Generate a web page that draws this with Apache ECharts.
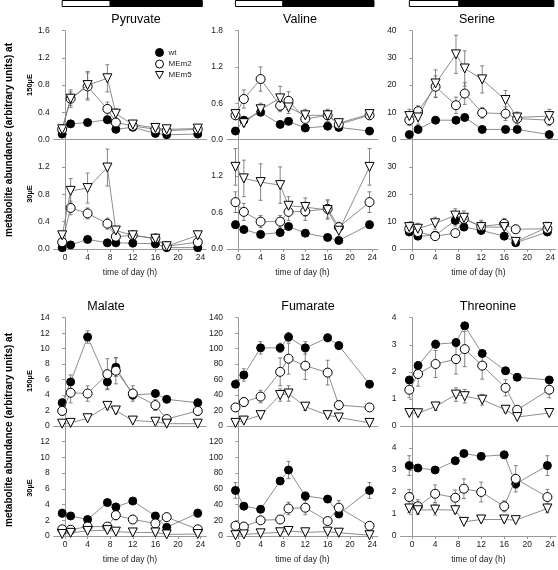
<!DOCTYPE html>
<html><head><meta charset="utf-8">
<script src="https://cdn.jsdelivr.net/npm/echarts@6/dist/echarts.min.js"></script>
<style>html,body{margin:0;padding:0;background:#fff}#c{width:558px;height:570px}</style>
</head><body><div id="c"></div><script>
// ---------------- DATA ----------------
const times = [-0.5, 1, 4, 7.5, 9, 12, 16, 18, 23.5];
const xTicks = [0, 4, 8, 12, 16, 20, 24];
const seriesNames = ['wt', 'MEm2', 'MEm5'];
const lightPeriod = [-0.5, 8];
const darkPeriod = [8, 24.3];

// Pyruvate
const pyr150_wt   = [0.08,0.23,0.25,0.29,0.15,0.18,0.09,0.07,0.08];
const pyr150_MEm2 = [0.15,0.60,0.78,0.45,0.25,0.20,0.15,0.13,0.15];
const pyr150_MEm5 = [0.15,0.60,0.80,0.90,0.38,0.22,0.17,0.15,0.16];
const pyr150_wt_err   = [0.01,0.02,0.02,0.03,0.02,0.02,0.01,0.01,0.01];
const pyr150_MEm2_err = [0.03,0.13,0.20,0.10,0.05,0.05,0.03,0.02,0.03];
const pyr150_MEm5_err = [0.03,0.10,0.20,0.20,0.07,0.05,0.04,0.03,0.03];
const pyr30_wt   = [0.02,0.06,0.14,0.09,0.09,0.085,0.075,0.02,0.02];
const pyr30_MEm2 = [0.10,0.60,0.52,0.37,0.18,0.20,0.155,0.04,0.10];
const pyr30_MEm5 = [0.20,0.85,0.89,1.19,0.27,0.20,0.15,0.04,0.20];
const pyr30_wt_err   = [0.01,0.01,0.01,0.01,0.01,0.01,0.01,0.01,0.01];
const pyr30_MEm2_err = [0.03,0.10,0.08,0.08,0.04,0.03,0.03,0.02,0.03];
const pyr30_MEm5_err = [0.04,0.18,0.22,0.27,0.06,0.04,0.04,0.02,0.04];

// Valine
const val150_wt   = [0.14,0.32,0.45,0.25,0.30,0.19,0.22,0.20,0.14];
const val150_MEm2 = [0.40,0.67,1.00,0.56,0.64,0.34,0.40,0.25,0.40];
const val150_MEm5 = [0.42,0.27,0.50,0.68,0.53,0.40,0.40,0.27,0.42];
const val150_wt_err   = [0.03,0.03,0.03,0.03,0.03,0.03,0.03,0.03,0.03];
const val150_MEm2_err = [0.07,0.15,0.20,0.10,0.15,0.10,0.10,0.05,0.07];
const val150_MEm5_err = [0.05,0.05,0.10,0.20,0.10,0.10,0.07,0.05,0.05];
const val30_wt   = [0.40,0.32,0.24,0.27,0.37,0.26,0.19,0.14,0.40];
const val30_MEm2 = [0.77,0.61,0.45,0.45,0.61,0.62,0.66,0.36,0.77];
const val30_MEm5 = [1.35,1.16,1.10,1.05,0.71,0.69,0.64,0.30,1.35];
const val30_wt_err   = [0.06,0.03,0.03,0.03,0.03,0.03,0.03,0.02,0.06];
const val30_MEm2_err = [0.17,0.14,0.10,0.10,0.14,0.15,0.15,0.08,0.17];
const val30_MEm5_err = [0.30,0.30,0.30,0.30,0.15,0.15,0.15,0.10,0.30];

// Serine
const ser150_wt   = [1.8,3.7,7.1,7.1,8.1,3.7,3.7,3.7,1.8];
const ser150_MEm2 = [7.1,10.4,19.4,12.6,16.9,9.8,9.5,7.7,7.1];
const ser150_MEm5 = [8.6,8.1,20.6,31.3,26.1,22.1,14.5,8.1,8.6];
const ser150_wt_err   = [0.3,0.5,0.8,0.8,0.8,0.5,0.5,0.5,0.3];
const ser150_MEm2_err = [2,2,4,3,4,2,2.5,2,2];
const ser150_MEm5_err = [2.5,2.5,5,7,6.5,5,3.5,2,2.5];
const ser30_wt   = [6.2,4.7,5.0,10.4,8.0,6.8,4.7,2.3,6.2];
const ser30_MEm2 = [7.4,6.2,4.7,5.8,11.0,8.2,9.2,7.2,7.4];
const ser30_MEm5 = [8.0,7.4,9.4,12.2,11.4,8.0,8.0,2.6,8.0];
const ser30_wt_err   = [1,0.8,0.8,2,1.2,1,0.8,0.8,1];
const ser30_MEm2_err = [1.2,1,0.8,1,2,1.5,2,1.5,1.2];
const ser30_MEm5_err = [1.8,2,2.2,2.5,2.5,2.5,2,1,1.8];

// Malate
const mal150_wt   = [3.0,5.7,11.5,5.7,7.6,4.0,4.2,3.45,3.0];
const mal150_MEm2 = [1.95,4.3,4.2,6.7,7.15,4.2,2.7,0.9,1.95];
const mal150_MEm5 = [0.3,0.4,1.0,2.6,2.0,0.7,0.55,0.3,0.3];
const mal150_wt_err   = [0.5,0.9,0.8,0.9,1.2,0.6,0.4,0.3,0.5];
const mal150_MEm2_err = [0.6,1.3,1.0,2.0,1.7,1.0,0.7,0.4,0.6];
const mal150_MEm5_err = [0.1,0.1,0.2,0.5,0.4,0.15,0.1,0.1,0.1];
const mal30_wt   = [2.9,2.55,2.1,4.25,3.7,4.45,2.55,1.1,2.9];
const mal30_MEm2 = [0.85,0.8,1.2,1.2,2.65,2.1,1.6,2.4,0.85];
const mal30_MEm5 = [0.25,0.4,0.65,0.75,0.55,0.45,0.45,0.2,0.25];
const mal30_wt_err   = [0.5,0.3,0.3,0.3,0.4,0.3,0.4,0.3,0.5];
const mal30_MEm2_err = [0.3,0.2,0.5,0.3,0.6,0.5,0.4,0.5,0.3];
const mal30_MEm5_err = [0.1,0.1,0.1,0.1,0.1,0.1,0.1,0.1,0.1];

// Fumarate
const fum150_wt   = [54,66,101,101,115,101,114,104,54];
const fum150_MEm2 = [24,31,38,70,87,78,69,27,24];
const fum150_MEm5 = [4,7,14,40,42,25,14,11,4];
const fum150_wt_err   = [4,8,8,6,6,8,5,5,4];
const fum150_MEm2_err = [5,6,8,18,20,18,16,6,5];
const fum150_MEm5_err = [1,2,3,8,10,5,3,2,1];
const fum30_wt   = [58,38,34,70,84,51,47,28,58];
const fum30_MEm2 = [13,12,20,21,35,36,19,36,13];
const fum30_MEm5 = [1,2,3.4,4.7,6.4,4.7,5.5,4.2,1];
const fum30_wt_err   = [10,4,4,4,11,5,4,4,10];
const fum30_MEm2_err = [3,3,4,4,8,9,4,9,3];
const fum30_MEm5_err = [0.5,1,1,1.2,1.5,1,1,1,0.5];

// Threonine
const thr150_wt   = [1.7,2.23,3.02,3.08,3.7,2.68,2.04,1.8,1.7];
const thr150_MEm2 = [1.34,1.92,2.29,2.47,2.84,2.23,1.41,0.6,1.34];
const thr150_MEm5 = [0.48,0.47,0.72,1.16,1.1,0.97,0.6,0.33,0.48];
const thr150_wt_err   = [0.1,0.15,0.15,0.15,0.1,0.1,0.1,0.05,0.1];
const thr150_MEm2_err = [0.3,0.45,0.5,0.55,0.65,0.5,0.3,0.1,0.3];
const thr150_MEm5_err = [0.05,0.05,0.15,0.25,0.25,0.2,0.1,0.05,0.05];
const thr30_wt   = [3.2,3.09,3.0,3.42,3.75,3.62,3.69,2.37,3.2];
const thr30_MEm2 = [1.77,1.35,1.92,1.74,2.15,2.0,1.35,2.6,1.77];
const thr30_MEm5 = [1.25,1.17,1.2,1.17,0.64,0.75,0.75,0.72,1.25];
const thr30_wt_err   = [0.45,0.05,0.05,0.1,0.1,0.1,0.05,0.2,0.45];
const thr30_MEm2_err = [0.35,0.3,0.4,0.35,0.45,0.45,0.25,0.6,0.35];
const thr30_MEm5_err = [0.2,0.2,0.25,0.15,0.05,0.1,0.1,0.05,0.2];

// ---------------- LAYOUT ----------------
const FONT = 'Liberation Sans, Arial, sans-serif';
const X_MIN = -2, X_MAX = 25;
const colLeft = [53.7, 227.1, 400.6];
const colScale = [5.65, 5.585, 5.835];
const rowY = [[30.7, 139.5, 249], [317.7, 426, 536]];
const AX = '#999', TXT = '#1a1a1a', LN = '#707070';

const panels = [
  {title:'Pyruvate', row:0, col:0, max:[1.6,1.6], interval:[0.4,0.4], dec:1,
   hi:[pyr150_wt,pyr150_MEm2,pyr150_MEm5], hiErr:[pyr150_wt_err,pyr150_MEm2_err,pyr150_MEm5_err],
   lo:[pyr30_wt,pyr30_MEm2,pyr30_MEm5], loErr:[pyr30_wt_err,pyr30_MEm2_err,pyr30_MEm5_err], tx:136},
  {title:'Valine', row:0, col:1, max:[1.8,1.8], interval:[0.6,0.6], dec:1,
   hi:[val150_wt,val150_MEm2,val150_MEm5], hiErr:[val150_wt_err,val150_MEm2_err,val150_MEm5_err],
   lo:[val30_wt,val30_MEm2,val30_MEm5], loErr:[val30_wt_err,val30_MEm2_err,val30_MEm5_err], tx:300},
  {title:'Serine', row:0, col:2, max:[40,40], interval:[10,10], dec:0,
   hi:[ser150_wt,ser150_MEm2,ser150_MEm5], hiErr:[ser150_wt_err,ser150_MEm2_err,ser150_MEm5_err],
   lo:[ser30_wt,ser30_MEm2,ser30_MEm5], loErr:[ser30_wt_err,ser30_MEm2_err,ser30_MEm5_err], tx:477},
  {title:'Malate', row:1, col:0, max:[14,14], interval:[2,2], dec:0,
   hi:[mal150_wt,mal150_MEm2,mal150_MEm5], hiErr:[mal150_wt_err,mal150_MEm2_err,mal150_MEm5_err],
   lo:[mal30_wt,mal30_MEm2,mal30_MEm5], loErr:[mal30_wt_err,mal30_MEm2_err,mal30_MEm5_err], tx:106},
  {title:'Fumarate', row:1, col:1, max:[140,140], interval:[20,20], dec:0,
   hi:[fum150_wt,fum150_MEm2,fum150_MEm5], hiErr:[fum150_wt_err,fum150_MEm2_err,fum150_MEm5_err],
   lo:[fum30_wt,fum30_MEm2,fum30_MEm5], loErr:[fum30_wt_err,fum30_MEm2_err,fum30_MEm5_err], tx:308},
  {title:'Threonine', row:1, col:2, max:[4,5], interval:[1,1], dec:0,
   hi:[thr150_wt,thr150_MEm2,thr150_MEm5], hiErr:[thr150_wt_err,thr150_MEm2_err,thr150_MEm5_err],
   lo:[thr30_wt,thr30_MEm2,thr30_MEm5], loErr:[thr30_wt_err,thr30_MEm2_err,thr30_MEm5_err], tx:488}
];

const symbolDefs = [
  {symbol:'circle', size:8, rotate:0, fill:'#000'},
  {symbol:'circle', size:9, rotate:0, fill:'#fff'},
  {symbol:'triangle', size:9, rotate:180, fill:'#fff'}
];

function errRender(params, api) {
  const x = api.value(0), y = api.value(1), e = api.value(2);
  const t = api.coord([x, y + e]), b = api.coord([x, Math.max(0, y - e)]);
  const w = 2;
  const st = {stroke:'#666', lineWidth:0.8};
  return {type:'group', children:[
    {type:'line', shape:{x1:t[0], y1:t[1], x2:b[0], y2:b[1]}, style:st},
    {type:'line', shape:{x1:t[0]-w, y1:t[1], x2:t[0]+w, y2:t[1]}, style:st},
    {type:'line', shape:{x1:b[0]-w, y1:b[1], x2:b[0]+w, y2:b[1]}, style:st}
  ]};
}

const grid = [], xAxis = [], yAxis = [], series = [], graphic = [];
let gi = 0;
panels.forEach(p => {
  const left = colLeft[p.col], width = colScale[p.col] * (X_MAX - X_MIN);
  [0, 1].forEach(level => {
    const isLo = level === 1;
    const yTop = rowY[p.row][level], yBot = rowY[p.row][level + 1];
    grid.push({left:left, top:yTop, width:width, height:yBot - yTop, containLabel:false});
    xAxis.push({gridIndex:gi, type:'value', min:X_MIN, max:X_MAX,
      axisLine:{show:true, onZero:false, lineStyle:{color:AX, width:1}},
      axisTick:{show:isLo, customValues:xTicks, length:3, lineStyle:{color:AX}},
      axisLabel:{show:isLo, customValues:xTicks, fontSize:8.5, color:TXT, margin:4, fontFamily:FONT},
      splitLine:{show:false},
      name:isLo ? 'time of day (h)' : '', nameLocation:'middle', nameGap:19,
      nameTextStyle:{fontSize:8.5, color:TXT, fontFamily:FONT}});
    yAxis.push({gridIndex:gi, type:'value', min:0, max:p.max[level], interval:p.interval[level],
      axisLine:{show:true, lineStyle:{color:AX, width:1}},
      axisTick:{show:true, length:3, lineStyle:{color:AX}},
      axisLabel:{fontSize:8.5, color:TXT, margin:4, fontFamily:FONT, showMaxLabel:!isLo,
        formatter:v => v.toFixed(p.dec)},
      splitLine:{show:false}});
    const vals = isLo ? p.lo : p.hi, errs = isLo ? p.loErr : p.hiErr;
    seriesNames.forEach((nm, si) => {
      series.push({type:'custom', xAxisIndex:gi, yAxisIndex:gi, renderItem:errRender, z:1,
        silent:true, animation:false, clip:false,
        data:times.map((t, i) => [t, vals[si][i], errs[si][i]])});
    });
    seriesNames.forEach((nm, si) => {
      const s = symbolDefs[si];
      series.push({type:'line', name:nm, xAxisIndex:gi, yAxisIndex:gi, z:3 + si,
        data:times.map((t, i) => [t, vals[si][i]]),
        symbol:s.symbol, symbolSize:s.size, symbolRotate:s.rotate, showAllSymbol:true,
        itemStyle:{color:s.fill, borderColor:'#000', borderWidth:1, opacity:1},
        lineStyle:{color:LN, width:0.8}, animation:false});
    });
    gi++;
  });
  graphic.push({type:'text', x:p.tx, y:rowY[p.row][0] - 11,
    style:{text:p.title, font:'12.5px ' + FONT, fill:'#000', align:'center', verticalAlign:'middle',
      textAlign:'center', textVerticalAlign:'middle'}});
});

// light / dark bars above top row
[0, 1, 2].forEach(c => {
  const left = colLeft[c], width = colScale[c] * (X_MAX - X_MIN);
  grid.push({left:left, top:0.5, width:width, height:6});
  xAxis.push({gridIndex:gi, type:'value', min:X_MIN, max:X_MAX, show:false});
  yAxis.push({gridIndex:gi, type:'value', min:0, max:1, show:false});
  series.push({type:'custom', xAxisIndex:gi, yAxisIndex:gi, silent:true, animation:false,
    data:[[lightPeriod[0], lightPeriod[1], 0], [darkPeriod[0], darkPeriod[1], 1]],
    renderItem:(params, api) => {
      const a = api.coord([api.value(0), 1]), b = api.coord([api.value(1), 0]);
      return {type:'rect', shape:{x:a[0], y:a[1], width:b[0] - a[0], height:b[1] - a[1]},
        style:{fill:api.value(2) ? '#000' : '#fff', stroke:'#000', lineWidth:1}};
    }});
  gi++;
});

// axis captions
[[140, 0], [430, 1]].forEach(([cy, r]) => {
  graphic.push({type:'text', x:9, y:cy, rotation:Math.PI / 2,
    style:{text:'metabolite abundance (arbitrary units) at', font:'bold 10px ' + FONT, fill:'#000',
      align:'center', verticalAlign:'middle', textAlign:'center', textVerticalAlign:'middle'}});
});
[[85, '150µE'], [194, '30µE'], [381, '150µE'], [488, '30µE']].forEach(([cy, t]) => {
  graphic.push({type:'text', x:30, y:cy, rotation:Math.PI / 2,
    style:{text:t, font:'bold 7.5px ' + FONT, fill:'#000',
      align:'center', verticalAlign:'middle', textAlign:'center', textVerticalAlign:'middle'}});
});

const chart = echarts.init(document.getElementById('c'), null, {renderer:'canvas'});
chart.setOption({
  animation:false,
  backgroundColor:'#fff',
  textStyle:{fontFamily:FONT},
  grid, xAxis, yAxis, series, graphic,
  legend:{left:150, top:43, orient:'vertical', itemWidth:8, itemHeight:8, itemGap:2.5,
    selectedMode:false, textStyle:{fontSize:8, color:TXT, fontFamily:FONT},
    data:[
      {name:'wt', icon:'circle', itemStyle:{color:'#000', borderColor:'#000', borderWidth:1}},
      {name:'MEm2', icon:'circle', itemStyle:{color:'#fff', borderColor:'#000', borderWidth:1}},
      {name:'MEm5', icon:'path://M0,0L10,0L5,9Z', itemStyle:{color:'#fff', borderColor:'#000', borderWidth:1}}
    ]}
});
</script></body></html>
